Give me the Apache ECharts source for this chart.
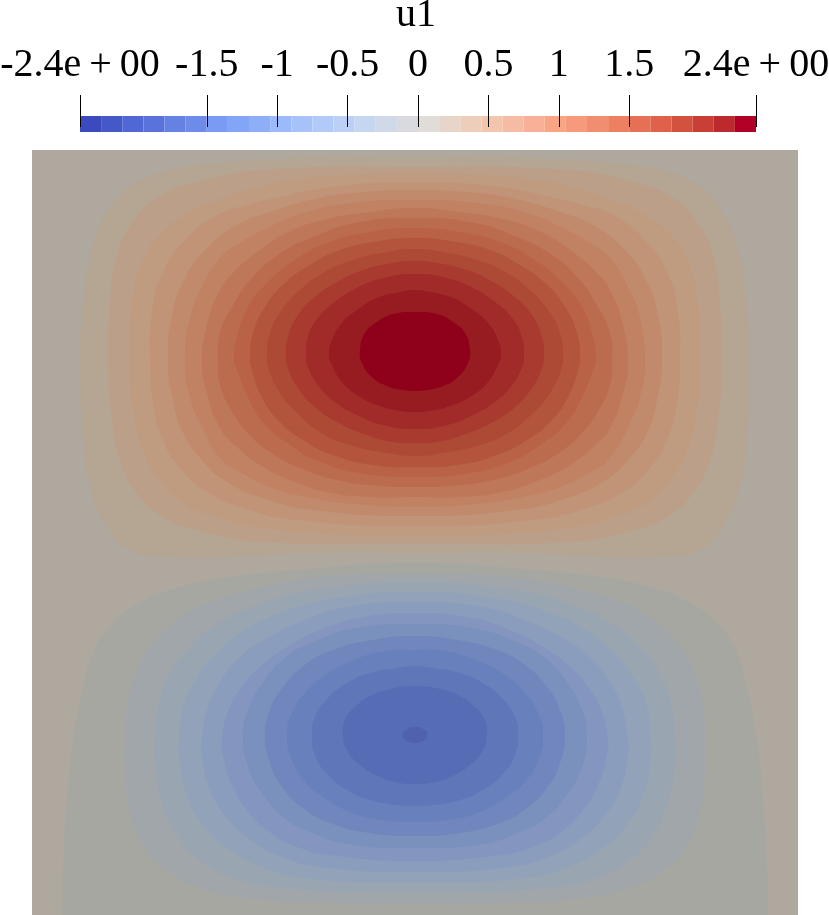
<!DOCTYPE html>
<html><head><meta charset="utf-8">
<style>html,body{margin:0;padding:0;background:#fff}#c{width:829px;height:915px}</style>
<script src="https://cdn.jsdelivr.net/npm/echarts@6/dist/echarts.min.js"></script>
</head><body><div id="c"></div>
<script>
const fieldName = 'u1';
const tickValues = [-2.4,-1.5,-1,-0.5,0,0.5,1,1.5,2.4];
const tickLabels = ['-2.4e+00','-1.5','-1','-0.5','0','0.5','1','1.5','2.4e+00'];
const barColors = ['#3b4bbd','#4558c8','#4f68d6','#5a73dc','#6482e4','#6d8cea','#7a9bf3','#83a5f6','#8eaef8','#9bbafa','#a7c2fa','#b2cafa','#bcd0f6','#c7d6f0','#d0d9e8','#d8dadf','#e0dcd8','#e8d5c9','#edcebb','#f3c5ac','#f6bba3','#f8b096','#f7a584','#f59a7a','#f18e6f','#ed8060','#e67056','#df6149','#d3523d','#c93f35','#bd2a2e','#b00026'];
const fieldBackground = '#aea89e';

// contour outlines: half outlines [|x|, y] from the top centre round to the bottom centre
const redColors = ['#b5a593','#bb9f88','#bf9b80','#c19477','#c18a6c','#c18163','#bf7759','#bc6c4e','#b96245','#b2553c','#ad4a36','#a83a2f','#a02b28','#961c22','#8f001a'];
const redContours = [
[[0,757],[118,757],[185,753],[235,747],[278,733],[305,707],[322,670],[332,610],[335,552],[333,488],[325,428],[310,392],[285,365],[245,358],[185,358],[102,362],[0,362]],
[[0,748],[152,745],[218,733],[258,717],[282,693],[298,660],[305,610],[307,552],[303,495],[295,455],[278,422],[252,398],[212,383],[152,373],[0,371]],
[[0,742],[70,740],[118,736],[160,727],[195,716],[225,703],[252,683],[272,655],[283,610],[285,552],[282,505],[272,465],[255,435],[232,412],[195,397],[135,385],[0,379]],
[[0,733],[85,728],[135,718],[168,710],[198,700],[228,677],[252,643],[263,603],[265,552],[262,512],[252,475],[235,447],[208,423],[172,407],[118,395],[0,389]],
[[0,725],[62,722],[105,715],[145,703],[178,690],[208,667],[230,637],[243,600],[247,552],[242,515],[232,482],[213,455],[188,433],[152,417],[102,405],[0,399]],
[[0,715],[62,712],[112,702],[148,687],[175,672],[195,657],[212,630],[225,597],[230,552],[225,518],[213,488],[195,457],[175,443],[145,428],[108,418],[62,411],[0,408]],
[[0,707],[45,703],[92,695],[128,682],[158,663],[182,642],[195,625],[208,590],[213,552],[208,522],[195,487],[178,468],[155,450],[125,435],[88,423],[45,418],[0,418]],
[[0,697],[55,693],[102,678],[137,660],[163,637],[183,608],[195,582],[197,552],[195,530],[185,507],[168,483],[145,463],[115,447],[78,435],[35,429],[0,428]],
[[0,687],[45,683],[88,672],[120,655],[147,633],[167,608],[178,578],[181,555],[178,545],[168,520],[152,493],[125,470],[95,453],[55,442],[0,438]],
[[0,677],[35,674],[75,665],[105,650],[130,632],[150,608],[162,582],[165,560],[163,545],[153,518],[137,495],[112,475],[82,460],[42,450],[0,448]],
[[0,666],[28,663],[62,655],[92,642],[115,625],[133,605],[145,582],[148,560],[146,545],[135,522],[118,502],[95,483],[65,470],[28,462],[0,459]],
[[0,654],[22,652],[52,645],[78,633],[100,618],[117,600],[127,578],[129,560],[127,547],[117,527],[100,508],[78,493],[48,480],[22,473],[0,472]],
[[0,641],[35,636],[58,627],[80,613],[97,597],[107,578],[109,560],[107,548],[97,530],[80,513],[58,500],[32,490],[0,486]],
[[0,625],[15,623],[38,617],[58,605],[73,592],[83,575],[86,560],[83,550],[73,533],[58,520],[38,510],[15,504],[0,503]],
[[0,603],[22,601],[38,593],[50,582],[55,565],[53,552],[43,538],[28,529],[12,525],[0,524]]
];
const blueColors = ['#a7a7a2','#a1a6aa','#9aa5b2','#92a3b9','#8a9dbd','#8496bf','#7a91bd','#7086bc','#6880bb','#5f76b9','#566cb4','#5062ae'];
const blueContours = [
[[0,352],[118,345],[185,338],[235,328],[275,312],[302,292],[322,262],[333,222],[342,175],[347,130],[352,47],[353,0],[354,-40],[200,-40],[0,-40]],
[[0,342],[85,339],[152,328],[208,312],[238,295],[262,272],[278,245],[288,208],[290,175],[290,147],[285,103],[272,70],[252,47],[218,28],[168,17],[102,12],[0,11]],
[[0,333],[102,325],[158,310],[198,291],[225,268],[245,242],[257,208],[260,175],[260,153],[253,113],[238,80],[215,55],[182,37],[132,27],[0,22]],
[[0,323],[85,316],[135,302],[172,284],[198,263],[218,238],[232,208],[236,175],[236,157],[228,120],[212,90],[188,67],[158,50],[112,37],[0,32]],
[[0,313],[68,308],[115,293],[148,277],[175,258],[195,233],[208,205],[213,175],[213,160],[205,125],[188,97],[167,77],[138,60],[95,48],[0,43]],
[[0,302],[52,298],[95,285],[128,268],[153,250],[173,228],[187,203],[193,175],[192,160],[183,130],[168,105],[147,84],[118,68],[78,59],[0,54]],
[[0,291],[58,287],[102,273],[130,257],[152,233],[167,205],[172,180],[167,148],[153,122],[132,98],[103,82],[62,70],[0,67]],
[[0,279],[42,275],[82,265],[110,250],[132,228],[145,205],[150,180],[145,152],[132,127],[112,107],[85,92],[45,82],[0,79]],
[[0,265],[35,263],[65,253],[90,240],[110,222],[123,202],[128,180],[123,155],[110,133],[90,117],[65,103],[32,95],[0,93]],
[[0,249],[18,247],[45,242],[68,232],[87,217],[100,198],[103,180],[100,160],[87,140],[68,125],[45,115],[18,110],[0,109]],
[[0,229],[25,226],[45,219],[60,208],[70,195],[72,180],[68,165],[55,150],[35,138],[15,132],[0,131]],
[[0,188],[8,186],[12.5,180],[8,174],[0,172]]
];

function outline(half){
  const right = half.slice(1,-1).reverse().map(p=>[-p[0],p[1]]);
  return half.concat(right);
}
const bands = redContours.map((c,i)=>({c,color:redColors[i]})).concat(blueContours.map((c,i)=>({c,color:blueColors[i]})));

const chart = echarts.init(document.getElementById('c'),null,{renderer:'canvas',width:829,height:915});
chart.setOption({
  animation:false,
  backgroundColor:'#fff',
  textStyle:{fontFamily:'Liberation Serif'},
  title:{text:fieldName,left:411,top:-10,textAlign:'center',textStyle:{fontFamily:'Liberation Serif',fontSize:40,fontWeight:'normal',color:'#000'}},
  grid:[
    {left:32,top:150,width:766,height:765,show:true,backgroundColor:fieldBackground,borderWidth:0,outerBoundsMode:'none'},
    {left:80,top:116,width:676,height:16,outerBoundsMode:'none'},
    {left:80,top:126,width:676,height:1,outerBoundsMode:'none'}
  ],
  xAxis:[
    {gridIndex:0,type:'value',min:-383,max:383,show:false},
    {gridIndex:1,type:'category',data:barColors.map((_,i)=>String(i)),show:false},
    {gridIndex:2,type:'value',min:-2.4,max:2.4,position:'top',z:10,
      axisLine:{show:false},splitLine:{show:false},
      axisTick:{show:true,inside:false,length:32,customValues:tickValues,lineStyle:{color:'#000',width:1}},
      axisLabel:{show:true,customValues:tickValues,margin:41,hideOverlap:false,fontFamily:'Liberation Serif',fontSize:40,color:'#000',
        showMinLabel:true,showMaxLabel:true,
        formatter:v=>tickLabels[tickValues.indexOf(v)].replace('+','\u2009+\u2009')}}
  ],
  yAxis:[
    {gridIndex:0,type:'value',min:0,max:765,show:false},
    {gridIndex:1,type:'value',min:0,max:1,show:false},
    {gridIndex:2,type:'value',min:0,max:1,show:false}
  ],
  series:[
    {type:'custom',xAxisIndex:0,yAxisIndex:0,clip:true,coordinateSystem:'cartesian2d',
      data:bands.map((b,i)=>[i]),encode:{x:[],y:[]},silent:true,
      renderItem:(params,api)=>{
        const b=bands[params.dataIndex];
        return {type:'polygon',shape:{points:outline(b.c).map(p=>api.coord(p)),smooth:0.5},style:{fill:b.color}};
      }},
    {type:'bar',xAxisIndex:1,yAxisIndex:1,silent:true,barWidth:'100%',barCategoryGap:0,
      data:barColors.map(c=>({value:1,itemStyle:{color:c}}))}
  ]
});
</script></body></html>
